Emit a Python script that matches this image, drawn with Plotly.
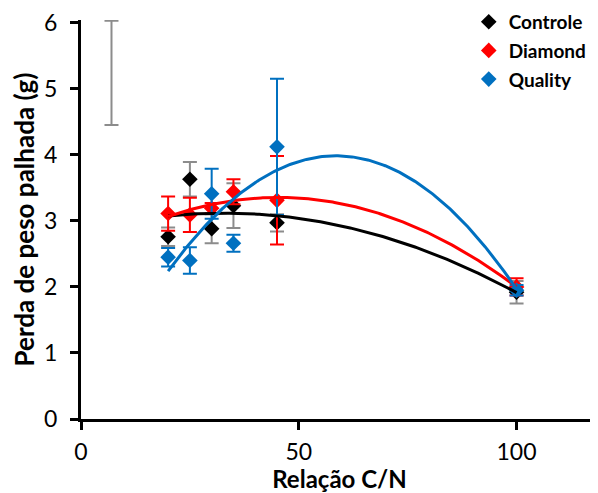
import numpy as np
import plotly.graph_objects as go

# relação C/N
cn = [20, 25, 30, 35, 45, 100]

controle = [2.76, 3.63, 2.88, 3.23, 2.97, 1.92]
controle_err = [0.14, 0.26, 0.22, 0.34, 0.13, 0.17]

diamond = [3.11, 3.09, 3.19, 3.44, 3.31, 2.00]
diamond_err = [0.26, 0.26, 0.08, 0.19, 0.67, 0.13]

quality = [2.45, 2.40, 3.41, 2.66, 4.12, 1.95]
quality_err = [0.14, 0.20, 0.38, 0.13, 1.03, 0.08]

# barra de erro isolada (sem marcador)
extra_x = [7]
extra_y = [5.24]
extra_err = [0.79]

font = "Lato"
fig = go.Figure()

fig.add_trace(go.Scatter(
    x=extra_x, y=extra_y, mode="markers", showlegend=False, cliponaxis=False,
    marker=dict(size=1, color="rgba(0,0,0,0)"),
    error_y=dict(type="data", array=extra_err, color="#8c8c8c", thickness=2, width=7),
    hoverinfo="skip"
))

series = [
    ("Controle", controle, controle_err, "black", "#8c8c8c"),
    ("Diamond", diamond, diamond_err, "#ff0000", "#ff0000"),
    ("Quality", quality, quality_err, "#0070c0", "#0070c0"),
]

for name, y, err, col, ecol in series:
    fig.add_trace(go.Scatter(
        x=cn, y=y, mode="markers", name=name, legendgroup=name,
        marker=dict(symbol="diamond", size=12, color=col),
        error_y=dict(type="data", array=err, color=ecol, thickness=2, width=7),
    ))

# linhas de tendência polinomiais (ordem 2), como no Excel
xs = np.linspace(min(cn), max(cn), 200)
for name, y, err, col, ecol in series:
    coef = np.polyfit(cn, y, 2)
    fig.add_trace(go.Scatter(
        x=xs, y=np.polyval(coef, xs), mode="lines", showlegend=False,
        legendgroup=name, line=dict(color=col, width=3), hoverinfo="skip"
    ))

# a página tem 8px de margem no body: a figura é reduzida nessa medida
fig.update_layout(
    width=590, height=485,
    margin=dict(l=73, r=0, t=12, b=74, autoexpand=False),
    plot_bgcolor="white", paper_bgcolor="white",
    font=dict(family=font, color="black"),
    legend=dict(
        x=0.75, y=1.043, xanchor="left", yanchor="top",
        font=dict(size=19, family=font, weight="bold"),
        bgcolor="rgba(0,0,0,0)", tracegroupgap=1, itemwidth=30,
        traceorder="grouped", groupclick="toggleitem",
    ),
)

fig.update_xaxes(
    range=[0, 118.7], tickvals=[0, 50, 100], showgrid=False, zeroline=False,
    showline=True, linecolor="black", linewidth=3,
    ticks="outside", ticklen=8, tickwidth=3, tickcolor="black",
    tickfont=dict(size=23), ticklabelstandoff=2,
    title=dict(text="Relação C/N", font=dict(size=24, weight="bold"), standoff=9),
)
fig.update_yaxes(
    range=[0, 6.04], tickmode="linear", tick0=0, dtick=1, showgrid=False, zeroline=False,
    showline=True, linecolor="black", linewidth=3,
    ticks="outside", ticklen=8, tickwidth=3, tickcolor="black",
    tickfont=dict(size=23), ticklabelstandoff=8, ticklabeloverflow="allow",
    title=dict(text="Perda de peso palhada (g)", font=dict(size=26, weight="bold"), standoff=5),
)

fig.write_html("out.html")
